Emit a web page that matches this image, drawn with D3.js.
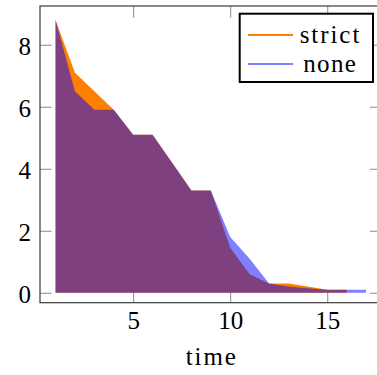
<!DOCTYPE html>
<html>
<head>
<meta charset="utf-8">
<script src="https://cdn.jsdelivr.net/npm/d3@7"></script>
<style>
  body { margin: 0; background: #fff; }
  svg text { font-family: "Liberation Serif", "Times New Roman", Tinos, "DejaVu Serif", "Noto Serif", Times, serif; fill: #000; }
</style>
</head>
<body>
<div id="vis"></div>
<script>
// chart data
const STRICT_TIME = [1, 2, 3, 4, 5, 6, 7, 8, 9, 10, 11, 12, 13, 14, 15, 16];
const STRICT_VALS = [8.8, 7.1, 6.5, 5.9, 5.1, 5.1, 4.2, 3.3, 3.3, 1.45, 0.6, 0.3, 0.3, 0.2, 0.1, 0.1];
const NONE_TIME = [1, 2, 3, 4, 5, 6, 7, 8, 9, 10, 11, 12, 13, 14, 15, 16, 17];
const NONE_VALS = [8.8, 6.5, 5.9, 5.9, 5.1, 5.1, 4.2, 3.3, 3.3, 1.8, 1.1, 0.3, 0.2, 0.15, 0.1, 0.1, 0.1];
const X_TICKS = [5, 10, 15];
const Y_TICKS = [0, 2, 4, 6, 8];
const SERIES_NAMES = ["strict", "none"];
const X_LABEL = "time";

const FRAME_WIDTH = 377;
const FRAME_HEIGHT = 375;
const PLOT = {left: 40, right: 381.6, top: 6, bottom: 302.7};
const TICK_LEN = 11.6;

const svg = d3.select("#vis")
  .append("svg")
    .attr("width", FRAME_WIDTH)
    .attr("height", FRAME_HEIGHT);

// scales (pgfplots style enlarged limits)
const X_SCALE = d3.scaleLinear()
  .domain([0.2, 17.8])
  .range([PLOT.left, PLOT.right]);

const Y_SCALE = d3.scaleLinear()
  .domain([-0.32, 9.25])
  .range([PLOT.bottom, PLOT.top]);

// inward ticks on all four sides
const tickColor = "#8a8a8a";

const xBottom = svg.append("g")
  .attr("transform", "translate(0," + PLOT.bottom + ")")
  .call(d3.axisBottom(X_SCALE).tickValues(X_TICKS).tickSize(-TICK_LEN).tickPadding(9));

const xTop = svg.append("g")
  .attr("transform", "translate(0," + PLOT.top + ")")
  .call(d3.axisTop(X_SCALE).tickValues(X_TICKS).tickSize(-TICK_LEN).tickFormat(""));

const yLeft = svg.append("g")
  .attr("transform", "translate(" + PLOT.left + ",0)")
  .call(d3.axisLeft(Y_SCALE).tickValues(Y_TICKS).tickSize(-TICK_LEN).tickPadding(9));

const yRight = svg.append("g")
  .attr("transform", "translate(" + PLOT.right + ",0)")
  .call(d3.axisRight(Y_SCALE).tickValues(Y_TICKS).tickSize(-TICK_LEN).tickFormat(""));

[xBottom, xTop, yLeft, yRight].forEach((g) => {
  g.attr("font-family", null).attr("font-size", null);
  g.select(".domain").remove();
  g.selectAll(".tick line").attr("stroke", tickColor).attr("stroke-width", 1);
  g.selectAll("text")
    .style("font-size", "25px")
    .attr("fill", "#000");
});
yLeft.selectAll("text").attr("dy", "0.38em");

// areas
const area = d3.area()
  .x((d) => X_SCALE(d[0]))
  .y0(Y_SCALE(0))
  .y1((d) => Y_SCALE(d[1]));

svg.append("path")
  .datum(STRICT_TIME.map((t, i) => [t, STRICT_VALS[i]]))
  .attr("d", area)
  .attr("fill", "#ff8000");

svg.append("path")
  .datum(NONE_TIME.map((t, i) => [t, NONE_VALS[i]]))
  .attr("d", area)
  .attr("fill", "#0000ff")
  .attr("fill-opacity", 0.5);

// axis frame
svg.append("rect")
  .attr("x", PLOT.left)
  .attr("y", PLOT.top)
  .attr("width", PLOT.right - PLOT.left)
  .attr("height", PLOT.bottom - PLOT.top)
  .attr("fill", "none")
  .attr("stroke", "#3a3a3a")
  .attr("stroke-width", 1.2);

// x label
svg.append("text")
  .attr("x", (PLOT.left + PLOT.right) / 2)
  .attr("y", 365)
  .attr("text-anchor", "middle")
  .style("font-size", "25px")
  .attr("textLength", 50)
  .attr("lengthAdjust", "spacing")
  .text(X_LABEL);

// legend
const legend = svg.append("g");
legend.append("rect")
  .attr("x", 239.7)
  .attr("y", 13.7)
  .attr("width", 133.3)
  .attr("height", 68.3)
  .attr("fill", "#fff")
  .attr("stroke", "#000")
  .attr("stroke-width", 2);

const legendColors = ["#ff8000", "#8080ff"];
const legendWidths = [59.7, 52.7];
SERIES_NAMES.forEach((name, i) => {
  const ly = 35 + i * 29;
  legend.append("line")
    .attr("x1", 248).attr("x2", 293)
    .attr("y1", ly).attr("y2", ly)
    .attr("stroke", legendColors[i])
    .attr("stroke-width", 2);
  legend.append("text")
    .attr("x", 329.5)
    .attr("y", ly + 7.5)
    .attr("text-anchor", "middle")
    .style("font-size", "25px")
    .attr("textLength", legendWidths[i])
    .attr("lengthAdjust", "spacing")
    .text(name);
});
</script>
</body>
</html>
